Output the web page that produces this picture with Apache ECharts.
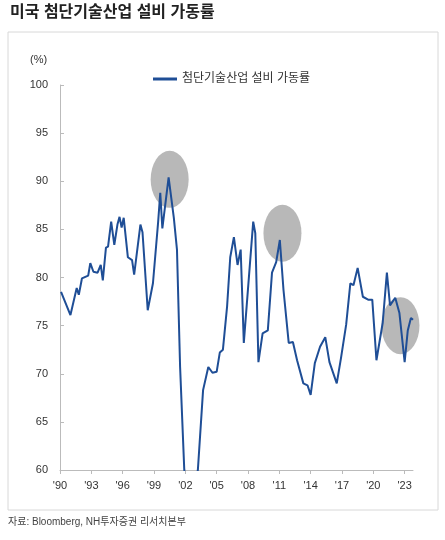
<!DOCTYPE html>
<html><head><meta charset="utf-8">
<script src="https://cdn.jsdelivr.net/npm/echarts@6/dist/echarts.min.js"></script>
<style>html,body{margin:0;padding:0;background:#fff}#c{width:445px;height:540px}</style>
</head><body><div id="c"></div>
<script>
const years = [1990.1,1991.0,1991.6,1991.8,1992.1,1992.7,1992.9,1993.2,1993.6,1993.9,1994.1,1994.4,1994.6,1994.9,1995.2,1995.5,1995.7,1995.9,1996.1,1996.5,1996.9,1997.1,1997.7,1997.9,1998.4,1998.9,1999.4,1999.6,1999.8,2000.4,2000.9,2001.2,2001.5,2001.9,2002.5,2003.2,2003.7,2004.2,2004.6,2005.0,2005.3,2005.6,2006.0,2006.3,2006.65,2007.0,2007.3,2007.6,2008.5,2008.7,2009.0,2009.4,2009.9,2010.3,2010.7,2011.05,2011.4,2011.9,2012.3,2012.7,2013.3,2013.7,2014.0,2014.4,2014.9,2015.4,2015.8,2016.5,2016.9,2017.4,2017.8,2018.1,2018.5,2019.0,2019.5,2019.9,2020.3,2020.9,2021.3,2021.6,2022.1,2022.5,2023.0,2023.3,2023.6,2023.8];
const values = [78.5,76.1,78.9,78.2,79.9,80.2,81.5,80.6,80.5,81.3,79.7,83.1,83.2,85.8,83.4,85.5,86.3,85.2,86.2,82.1,81.8,80.3,85.5,84.7,76.6,79.4,85.8,88.8,85.1,90.4,86.2,82.9,70.7,60.0,56.0,60.0,68.3,70.7,70.1,70.2,72.2,72.5,77.0,82.1,84.2,81.3,82.9,73.2,85.8,84.6,71.2,74.2,74.5,80.5,81.6,83.9,78.7,73.2,73.3,71.4,69.0,68.8,67.8,71.1,72.8,73.8,71.2,69.0,71.6,75.1,79.4,79.2,81.0,78.0,77.7,77.7,71.4,75.3,80.5,77.1,77.9,76.3,71.2,74.5,75.8,75.6];
const highlights = [[2000.5,90.2],[2011.3,84.6],[2022.6,75.0]];
const yTicks = [60,65,70,75,80,85,90,95,100];
const seriesName = '첨단기술산업 설비 가동률';
const F = 'Arial, "Liberation Sans", "Noto Sans CJK KR", sans-serif';
const chart = echarts.init(document.getElementById('c'));
chart.setOption({
  animation:false,
  textStyle:{fontFamily:F},
  graphic:[
    {type:'text',left:10,top:5,style:{text:'미국 첨단기술산업 설비 가동률',font:'bold 16px '+F,fill:'#222'}},
    {type:'rect',shape:{x:8,y:32,width:430,height:478},style:{fill:'none',stroke:'#d8d8d8',lineWidth:1},z:-1},
    {type:'text',left:30,top:54,style:{text:'(%)',font:'11px '+F,fill:'#333'}},
    {type:'text',left:8,top:517,style:{text:'자료: Bloomberg, NH투자증권 리서치본부',font:'10px '+F,fill:'#444'}}
  ],
  legend:{top:68,left:148,itemWidth:24,itemHeight:3,icon:'rect',textStyle:{fontSize:12,color:'#333'},data:[seriesName]},
  grid:{left:60,right:32,top:85,bottom:70},
  xAxis:{type:'value',min:1990,max:2023.8,interval:3,
    axisLine:{lineStyle:{color:'#bbb'}},axisTick:{length:4,lineStyle:{color:'#bbb'}},splitLine:{show:false},
    axisLabel:{color:'#333',fontSize:11,margin:10,formatter:v=>"'"+String(Math.round(v)).slice(2)}},
  yAxis:{type:'value',min:60,max:100,interval:5,
    axisLine:{show:true,lineStyle:{color:'#bbb'}},axisTick:{show:true,inside:true,length:4,lineStyle:{color:'#bbb'}},splitLine:{show:false},
    axisLabel:{color:'#333',fontSize:11,margin:12,formatter:v=>yTicks.includes(v)?String(v):''}},
  series:[
    {type:'scatter',silent:true,data:highlights,symbol:'circle',symbolSize:[38,57],
      itemStyle:{color:'#a6a6a6',opacity:0.8},z:1},
    {name:seriesName,type:'line',data:years.map((y,i)=>[y,values[i]]),showSymbol:false,
      lineStyle:{color:'#1f4e96',width:2},itemStyle:{color:'#1f4e96'},z:2,clip:true}
  ]
});
</script></body></html>
